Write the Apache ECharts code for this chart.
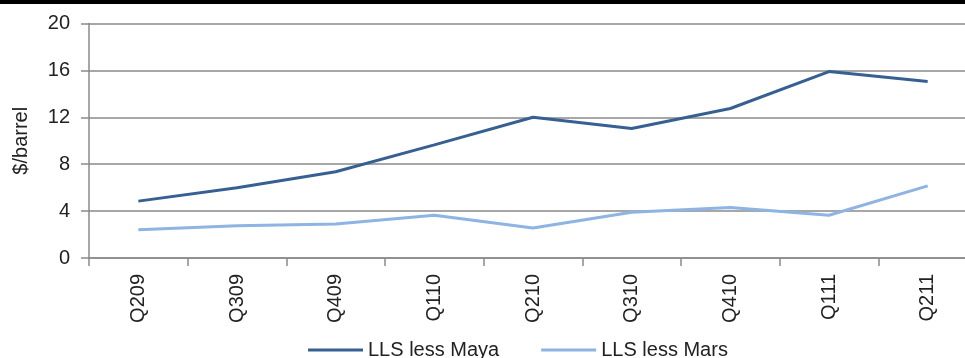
<!DOCTYPE html>
<html><head><meta charset="utf-8">
<script src="https://cdn.jsdelivr.net/npm/echarts@6/dist/echarts.min.js"></script>
<style>html,body{margin:0;padding:0;background:#fff}#c{width:965px;height:358px}</style>
</head><body><div id="c"></div>
<script>
const categories = ['Q209','Q309','Q409','Q110','Q210','Q310','Q410','Q111','Q211'];
const llsLessMaya = [4.85, 6.0, 7.35, 9.65, 12.0, 11.05, 12.75, 15.9, 15.05];
const llsLessMars = [2.4, 2.75, 2.9, 3.65, 2.55, 3.9, 4.3, 3.65, 6.15];
const yTicks = {min: 0, max: 20, interval: 4};

const font = 'Liberation Sans, Helvetica, Arial, sans-serif';
const chart = echarts.init(document.getElementById('c'), null, {renderer: 'canvas'});
chart.setOption({
  animation: false,
  backgroundColor: '#fff',
  graphic: [{type: 'rect', left: 0, top: 0, shape: {width: 965, height: 4}, style: {fill: '#000'}}],
  grid: {left: 89, top: 23.5, width: 888, height: 234.5, containLabel: false, outerBoundsMode: 'none'},
  legend: {
    left: 303, top: 335, itemWidth: 55, itemHeight: 22, itemGap: 42,
    icon: 'path://M0,0 L55,0 L55,3 L0,3 Z',
    textStyle: {fontFamily: font, fontSize: 20, color: '#222'},
    data: ['LLS less Maya', 'LLS less Mars']
  },
  xAxis: {
    type: 'category', data: categories, boundaryGap: true,
    axisLine: {lineStyle: {color: '#8a8a8a', width: 1.5}},
    axisTick: {show: true, length: 8, lineStyle: {color: '#8a8a8a', width: 1.5}},
    axisLabel: {rotate: 90, margin: 16, fontFamily: font, fontSize: 20, color: '#222', interval: 0}
  },
  yAxis: {
    type: 'value', min: yTicks.min, max: yTicks.max, interval: yTicks.interval,
    name: '$/barrel', nameLocation: 'middle', nameGap: 58, nameRotate: 90,
    nameTextStyle: {fontFamily: font, fontSize: 20, color: '#222'},
    axisLine: {show: true, lineStyle: {color: '#8a8a8a', width: 1.5}},
    axisTick: {show: true, length: 8, lineStyle: {color: '#8a8a8a', width: 1.5}},
    axisLabel: {margin: 19, fontFamily: font, fontSize: 20, color: '#222'},
    splitLine: {lineStyle: {color: '#8a8a8a', width: 1.5}}
  },
  series: [
    {name: 'LLS less Maya', type: 'line', data: llsLessMaya, symbol: 'none',
     lineStyle: {color: '#376092', width: 3}, itemStyle: {color: '#376092'}},
    {name: 'LLS less Mars', type: 'line', data: llsLessMars, symbol: 'none',
     lineStyle: {color: '#8db4e2', width: 3}, itemStyle: {color: '#8db4e2'}}
  ]
});
</script></body></html>
